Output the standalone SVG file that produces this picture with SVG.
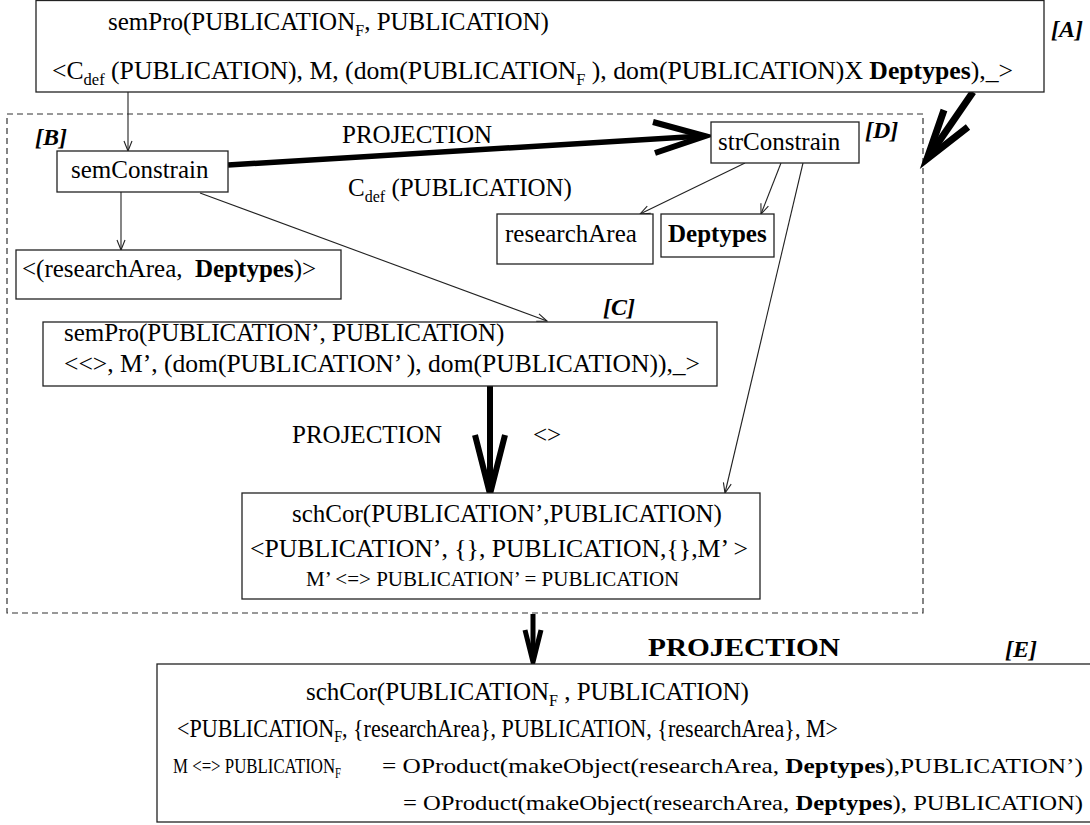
<svg xmlns="http://www.w3.org/2000/svg" width="1090" height="825" viewBox="0 0 1090 825">
  <style>
    text { font-family: "Liberation Serif", "Times New Roman", serif; font-size: 25px; fill: #000; }
    .box { fill: #fff; stroke: #222; stroke-width: 1.3; }
    .thin { fill: none; stroke: #222; stroke-width: 1.1; }
    .thick { fill: none; stroke: #000; stroke-linejoin: miter; stroke-miterlimit: 20; }
    .scope { fill: none; stroke: #333; stroke-width: 1.2; stroke-dasharray: 6 4; }
    .tag { font-weight: bold; font-style: italic; font-size: 24px; }
    .b { font-weight: bold; }
    .small { font-size: 21px; }
    .formula { font-size: 22px; }
  </style>
  <defs>
    <marker id="open" markerWidth="12" markerHeight="10" refX="11" refY="5" orient="auto" markerUnits="userSpaceOnUse">
      <path d="M1,1 L11,5 L1,9" fill="none" stroke="#222" stroke-width="1.1"/>
    </marker>
  </defs>

  <rect x="0" y="0" width="1090" height="825" fill="#fff"/>

  <!-- dashed scope around the projection steps -->
  <rect id="scope" class="scope" x="7" y="114" width="916" height="499"/>

  <!-- connectors -->
  <g id="connectors">
    <path class="thin" d="M128,92 L128,151" marker-end="url(#open)"/>
    <path class="thin" d="M121,192 L121,250" marker-end="url(#open)"/>
    <path class="thin" d="M200,193 L547,321" marker-end="url(#open)"/>
    <path class="thin" d="M745,163 L640,214" marker-end="url(#open)"/>
    <path class="thin" d="M781,163 L761,214" marker-end="url(#open)"/>
    <path class="thin" d="M803,163 L725,493" marker-end="url(#open)"/>

    <!-- semConstrain to strConstrain -->
    <path class="thick" stroke-width="5.5" d="M228,165 L703,136"/>
    <path class="thick" stroke-width="6" d="M653,122 L705,136 L655,153"/>

    <!-- [A] into the scope -->
    <path class="thick" stroke-width="7" d="M973,92 L929,156"/>
    <path class="thick" stroke-width="7" d="M944,110 L927,159 L968,127"/>

    <!-- [C] down to the schema correspondence -->
    <path class="thick" stroke-width="6" d="M490,386 L490,490"/>
    <path class="thick" stroke-width="6" d="M475,435 L490,494 L505,435"/>

    <!-- scope down to [E] -->
    <path class="thick" stroke-width="5" d="M533,614 L533,660"/>
    <path class="thick" stroke-width="5" d="M525,630 L533,662 L541,630"/>
  </g>

  <!-- edge labels -->
  <g id="labels">
    <text x="342" y="143">PROJECTION</text>
    <text x="348" y="196">C<tspan font-size="16" dy="6">def</tspan><tspan dy="-6"> (PUBLICATION)</tspan></text>
    <text x="292" y="443">PROJECTION</text>
    <text x="533" y="443">&lt;&gt;</text>
    <text class="b" x="648" y="656" font-size="22" textLength="192" lengthAdjust="spacingAndGlyphs">PROJECTION</text>
  </g>

  <g id="nodeA">
    <rect class="box" x="36" y="0.5" width="1008" height="91.5"/>
    <text x="108" y="30">semPro(PUBLICATION<tspan font-size="16" dy="6">F</tspan><tspan dy="-6">, PUBLICATION)</tspan></text>
    <text x="52" y="79" textLength="961" lengthAdjust="spacingAndGlyphs">&lt;C<tspan font-size="16" dy="6">def</tspan><tspan dy="-6"> (PUBLICATION), M, (dom(PUBLICATION</tspan><tspan font-size="16" dy="6">F</tspan><tspan dy="-6"> ), dom(PUBLICATION)X </tspan><tspan class="b">Deptypes</tspan>),_&gt;</text>
    <text class="tag" x="1051" y="37">[A]</text>
  </g>

  <g id="nodeB">
    <text class="tag" x="35" y="145">[B]</text>
    <rect class="box" x="57" y="151" width="171" height="41"/>
    <text x="71" y="178">semConstrain</text>
  </g>

  <g id="nodeTuple">
    <rect class="box" x="16" y="250" width="325" height="49"/>
    <text x="22" y="277" xml:space="preserve">&lt;(researchArea,  <tspan class="b">Deptypes</tspan>)&gt;</text>
  </g>

  <g id="nodeD">
    <rect class="box" x="711" y="122" width="148" height="41"/>
    <text x="718" y="150">strConstrain</text>
    <text class="tag" x="865" y="138">[D]</text>
  </g>

  <g id="nodeResearchArea">
    <rect class="box" x="497" y="214" width="156" height="50"/>
    <text x="505" y="242">researchArea</text>
  </g>

  <g id="nodeDeptypes">
    <rect class="box" x="661" y="214" width="113" height="43"/>
    <text class="b" x="668" y="242">Deptypes</text>
  </g>

  <g id="nodeC">
    <text class="tag" x="603" y="315">[C]</text>
    <rect class="box" x="43" y="322" width="674" height="64"/>
    <text x="64" y="341">semPro(PUBLICATION’, PUBLICATION)</text>
    <text x="64" y="372" textLength="636" lengthAdjust="spacingAndGlyphs">&lt;&lt;&gt;, M’, (dom(PUBLICATION’ ), dom(PUBLICATION)),_&gt;</text>
  </g>

  <g id="nodeSchCor">
    <rect class="box" x="242" y="493" width="518" height="106"/>
    <text x="292" y="522">schCor(PUBLICATION’,PUBLICATION)</text>
    <text x="250" y="557" textLength="498" lengthAdjust="spacingAndGlyphs">&lt;PUBLICATION’, {}, PUBLICATION,{},M’ &gt;</text>
    <text class="small" x="306" y="586">M’ &lt;=&gt; PUBLICATION’ = PUBLICATION</text>
  </g>

  <g id="nodeE">
    <rect class="box" x="157" y="664" width="940" height="158"/>
    <text x="306" y="700">schCor(PUBLICATION<tspan font-size="16" dy="6">F</tspan><tspan dy="-6"> , PUBLICATION)</tspan></text>
    <text x="177" y="737" textLength="661" lengthAdjust="spacingAndGlyphs">&lt;PUBLICATION<tspan font-size="16" dy="5">F</tspan><tspan dy="-5">, {researchArea}, PUBLICATION, {researchArea}, M&gt;</tspan></text>
    <text class="formula" x="173" y="773" textLength="168" lengthAdjust="spacingAndGlyphs">M &lt;=&gt; PUBLICATION<tspan font-size="14" dy="5">F</tspan></text>
    <text class="formula" x="382" y="773" textLength="701" lengthAdjust="spacingAndGlyphs">= OProduct(makeObject(researchArea, <tspan class="b">Deptypes</tspan>),PUBLICATION’)</text>
    <text class="formula" x="403" y="810" textLength="680" lengthAdjust="spacingAndGlyphs">= OProduct(makeObject(researchArea, <tspan class="b">Deptypes</tspan>), PUBLICATION)</text>
    <text class="tag" x="1005" y="657">[E]</text>
  </g>
</svg>
